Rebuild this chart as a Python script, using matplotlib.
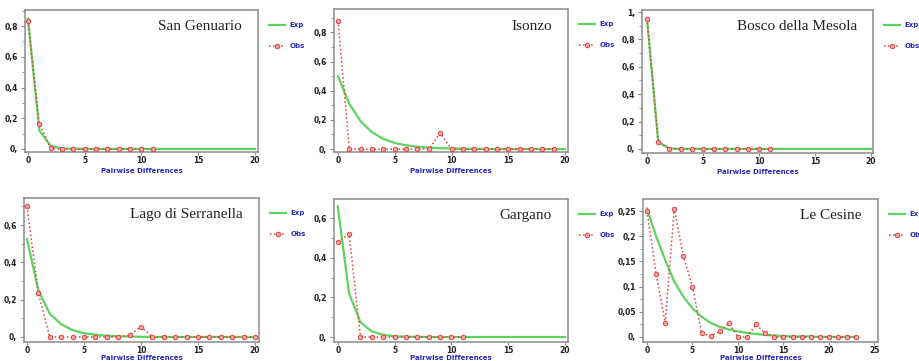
import numpy as np
import matplotlib
matplotlib.use('Agg')
import matplotlib.pyplot as plt
from matplotlib.ticker import FuncFormatter, MultipleLocator

# site names
sites = ['San Genuario', 'Isonzo', 'Bosco della Mesola',
         'Lago di Serranella', 'Gargano', 'Le Cesine']

# expected mismatch distributions (x = 0, 1, 2, ...)
exp_san_genuario = [0.85, 0.12, 0.02, 0.004, 0.001, 0, 0, 0, 0, 0, 0,
                    0, 0, 0, 0, 0, 0, 0, 0, 0, 0]
exp_isonzo = [0.50, 0.31, 0.19, 0.115, 0.07, 0.042, 0.026, 0.016, 0.01, 0.006, 0.004,
              0.002, 0.001, 0.001, 0, 0, 0, 0, 0, 0, 0]
exp_bosco = [0.95, 0.05, 0.003, 0, 0, 0, 0, 0, 0, 0, 0,
             0, 0, 0, 0, 0, 0, 0, 0, 0, 0]
exp_serranella = [0.525, 0.25, 0.125, 0.068, 0.037, 0.02, 0.012, 0.007, 0.004, 0.002, 0.001,
                  0, 0, 0, 0, 0, 0, 0, 0, 0, 0]
exp_gargano = [0.66, 0.22, 0.075, 0.028, 0.011, 0.004, 0.002, 0.001, 0, 0, 0,
               0, 0, 0, 0, 0, 0, 0, 0, 0, 0]
exp_cesine = [0.255, 0.20, 0.153, 0.11, 0.08, 0.057, 0.04, 0.028, 0.02, 0.015, 0.011, 0.008,
              0.006, 0.004, 0.003, 0.002, 0.001, 0.001, 0.001, 0, 0, 0, 0, 0]

# observed mismatch distributions
obs_san_genuario = [0.835, 0.165, 0.005, 0, 0, 0, 0, 0, 0, 0, 0, 0]
obs_isonzo = [0.88, 0, 0, 0, 0, 0, 0, 0, 0, 0.11,
              0, 0, 0, 0, 0, 0, 0, 0, 0, 0]
obs_bosco = [0.95, 0.05, 0, 0, 0, 0, 0, 0, 0, 0, 0, 0]
obs_serranella = [0.70, 0.235, 0, 0, 0, 0, 0, 0, 0, 0.01, 0.056,
                  0, 0, 0, 0, 0, 0, 0, 0, 0, 0]
obs_gargano = [0.48, 0.52, 0, 0, 0, 0, 0, 0, 0, 0, 0, 0]
obs_cesine = [0.25, 0.125, 0.028, 0.255, 0.16, 0.10, 0.007, 0.002, 0.011, 0.027, 0, 0,
              0.025, 0.007, 0, 0, 0, 0, 0, 0, 0, 0, 0, 0]

exp_list = [exp_san_genuario, exp_isonzo, exp_bosco, exp_serranella, exp_gargano, exp_cesine]
obs_list = [obs_san_genuario, obs_isonzo, obs_bosco, obs_serranella, obs_gargano, obs_cesine]

# layout (pixels: left, top, right, bottom), axis ranges and ticks
W, H = 919, 361
boxes = [(25, 10, 258, 152), (334, 9, 568, 152), (642, 10, 873, 153),
         (24, 198, 259, 342), (334, 199, 568, 342), (643, 199, 878, 342)]
xlims = [(-0.26, 20.26), (-0.35, 20.26), (-0.45, 20.18),
         (-0.26, 20.35), (-0.33, 20.26), (-0.44, 25.4)]
ylims = [(-0.02, 0.905), (-0.02, 0.96), (-0.03, 1.015),
         (-0.027, 0.745), (-0.025, 0.697), (-0.01, 0.274)]
ysteps = [0.2, 0.2, 0.2, 0.2, 0.2, 0.05]
xmax_tick = [20, 20, 20, 20, 20, 25]
xlabel_pads = [2.0, 2.0, 2.0, 0.0, 0.0, 0.0]

exp_color = '#5fd35f'
obs_color = '#d9423f'
label_blue = '#2a2ab8'
frame_gray = '#8c8c8c'


def comma_fmt(v, pos):
    s = '%g' % round(v, 4)
    if '.' in s:
        return s.replace('.', ',')
    return s + ','


fig = plt.figure(figsize=(W / 100, H / 100), dpi=100)

for i in range(6):
    l, t, r, b = boxes[i]
    ax = fig.add_axes([l / W, 1 - b / H, (r - l) / W, (b - t) / H])
    xe = np.arange(len(exp_list[i]))
    xo = np.arange(len(obs_list[i]))
    ax.plot(xe, exp_list[i], color=exp_color, lw=1.6, label='Exp', zorder=2)
    ax.plot(xo, obs_list[i], color=obs_color, lw=1.1, ls=':', marker='o',
            markersize=3.2, mfc='#f2a8a6', mec=obs_color, mew=0.7, label='Obs', zorder=3)

    ax.set_xlim(*xlims[i])
    ax.set_ylim(*ylims[i])
    ax.set_xticks(np.arange(0, xmax_tick[i] + 1, 5))
    ax.set_yticks(np.arange(0, ylims[i][1], ysteps[i]))
    ax.yaxis.set_minor_locator(MultipleLocator(ysteps[i] / 2))
    ax.yaxis.set_major_formatter(FuncFormatter(comma_fmt))
    ax.tick_params(axis='y', which='major', length=3, width=0.8, color=frame_gray,
                   labelsize=5.5, pad=2, labelcolor='#222222')
    ax.tick_params(axis='x', which='major', length=2, width=0.8, color=frame_gray,
                   labelsize=5.5, pad=1, labelcolor='#222222')
    ax.tick_params(axis='y', which='minor', length=2, width=0.6, color=frame_gray)
    for lab in ax.get_xticklabels() + ax.get_yticklabels():
        lab.set_fontweight('bold')
    for sp in ax.spines.values():
        sp.set_color(frame_gray)
        sp.set_linewidth(1.1)

    ax.set_xlabel('Pairwise Differences', fontsize=5, fontweight='bold',
                  color=label_blue, labelpad=xlabel_pads[i])

    ax.annotate(sites[i], xy=(1, 1), xycoords='axes fraction',
                xytext=(-16, -17), textcoords='offset pixels',
                ha='right', va='center', fontsize=11, family='Liberation Serif',
                color='#222222')

    # legend outside the axes, to the right
    leg = ax.legend(loc='upper left', bbox_to_anchor=((r + 11) / W, 1 - (t + 12) / H),
                    bbox_transform=fig.transFigure, frameon=False, fontsize=5,
                    handlelength=2.3, handletextpad=0.7, labelspacing=2.2,
                    borderpad=0, borderaxespad=0)
    for txt in leg.get_texts():
        txt.set_color(label_blue)
        txt.set_fontweight('bold')

fig.savefig('out.png', dpi=100)
